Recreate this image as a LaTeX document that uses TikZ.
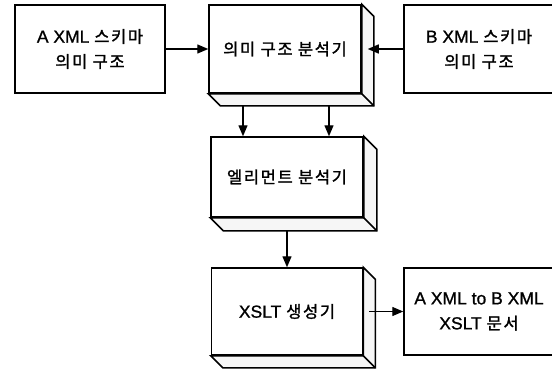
\documentclass[tikz,border=0pt]{standalone}
\usepackage{fontspec}
\setmainfont[FakeBold=1]{Liberation Sans}
\newfontfamily\kr[FakeBold=1.5,LetterSpace=10]{Noto Sans CJK KR}
\usetikzlibrary{arrows.meta,calc}

% Hangul runs are set in a CJK face, slightly spaced out
\newcommand\hg[1]{{\kr\fontsize{16.5}{24}\selectfont #1}}

% Extruded faces (right side and bottom) of a raised box
\newcommand\raised[2]{%
  \draw[face] (#1.north east) -- ++(#2,#2) |- ($(#1.south west)+(#2,#2)$)
    -- (#1.south west) -- (#1.south east) -- cycle;
  \draw[face] (#1.south east) -- ++(#2,#2);}

\begin{document}
\begin{tikzpicture}[x=1pt,y=-1pt,
  lbl/.style={font=\fontsize{17.5}{25}\selectfont, align=center},
  flatbox/.style={lbl, draw, line width=1.5pt, fill=white, inner sep=0pt,
    minimum width=150pt, minimum height=88pt},
  face/.style={draw, line width=1.5pt, fill=gray!7, line join=miter},
  flow/.style={draw, line width=1.4pt, -{Triangle[length=11pt,width=9pt]}}
]
\useasboundingbox (0,0) rectangle (552,370);
\fill[white] (0,0) rectangle (552,370);

% Input schemas
\node[flatbox] (A) at (90,49) {A XML \hg{스키마}\\\hg{의미 구조}};
\node[flatbox] (B) at (479,49) {B XML \hg{스키마}\\\hg{의미 구조}};

% Processing stages
\node[flatbox, minimum width=152pt] (M) at (285,49) {\hg{의미 구조 분석기}};
\raised{M}{12}
\node[flatbox, minimum width=152pt, minimum height=80pt] (E) at (287,177) {\hg{엘리먼트 분석기}};
\raised{E}{13}
\node[flatbox, minimum width=151pt, minimum height=87pt] (X) at (287,311.5) {XSLT \hg{생성기}};
\raised{X}{12}

% Output document
\node[flatbox, minimum height=87pt] (D) at (479,311.5) {A XML to B XML\\XSLT \hg{문서}};

% Connectors
\coordinate (Mside) at ($(M.east)+(6,0)$);
\coordinate (Xside) at ($(X.east)+(6,0)$);
\coordinate (Mleg) at ($(M.south)+(-42,12)$);
\coordinate (Mright) at ($(M.south)+(44,12)$);
\coordinate (Ebase) at ($(E.south)+(0,13)$);

\draw[flow] (A.east) -- (M.west);
\draw[flow] (B.west) -- (Mside);
\draw[flow] (Mleg) -- (Mleg |- E.north);
\draw[flow] (Mright) -- (Mright |- E.north);
\draw[flow] (Ebase) -- (X.north);
\draw[flow] (Xside) -- (D.west);
\end{tikzpicture}
\end{document}
